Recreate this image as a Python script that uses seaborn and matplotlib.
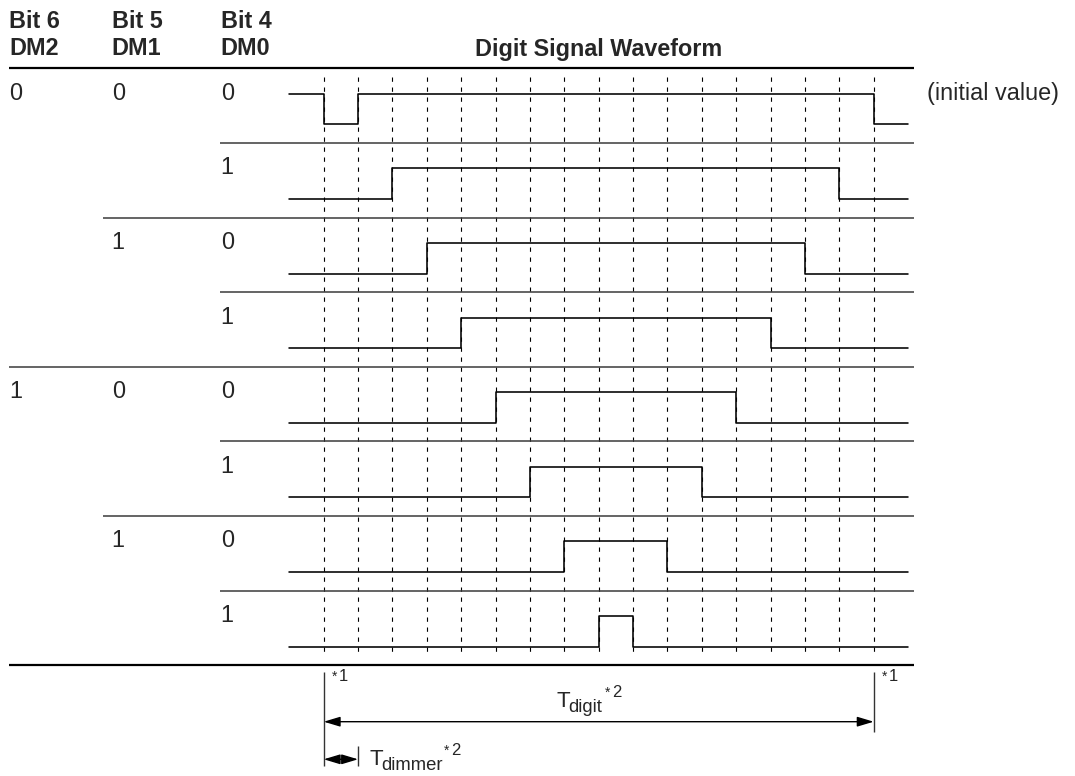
import matplotlib
matplotlib.use('Agg')
import matplotlib.pyplot as plt
import numpy as np
import pandas as pd
import seaborn as sns

sns.set_style('white')
plt.rcParams['font.family'] = ['Liberation Sans', 'DejaVu Sans']
plt.rcParams['lines.scale_dashes'] = False

# Dimmer setting bits per row and the slot where the digit goes high / low
dm2 = [0, 0, 0, 0, 1, 1, 1, 1]
dm1 = [0, 0, 1, 1, 0, 0, 1, 1]
dm0 = [0, 1, 0, 1, 0, 1, 0, 1]
rise_slot = [1, 2, 3, 4, 5, 6, 7, 8]
fall_slot = [16, 15, 14, 13, 12, 11, 10, 9]
n_slots = 16  # one T_digit period = 16 T_dimmer slots
col_top = ['Bit 6', 'Bit 5', 'Bit 4']
col_bottom = ['DM2', 'DM1', 'DM0']
title = 'Digit Signal Waveform'
initial_note = '(initial value)'

# layout helpers: pixel -> slot / row units
def sx(px):
    return (px - 323.7) / 34.375

def ry(py):
    return (py - 68.3) / 74.62

LOW, AMP = 0.75, 0.41
FS = 16.8

# build the waveform table (periodic with n_slots)
records = []
for i, (r, f) in enumerate(zip(rise_slot, fall_slot)):
    seg = list(range(-1, n_slots + 1))
    levels = [1 if r <= (t % n_slots) < f else 0 for t in seg]
    seg.append(n_slots + 1)
    levels.append(levels[-1])
    for t, lv in zip(seg, levels):
        records.append({'row': i, 't': t, 'y': i + LOW - AMP * lv})
wave = pd.DataFrame(records)

fig = plt.figure(figsize=(10.75, 7.76), dpi=100)
ax = fig.add_axes([0, 0, 1, 1])
ax.set_xlim(sx(0), sx(1075))
ax.set_ylim(ry(776), ry(0))
ax.axis('off')

# dashed slot boundaries
ax.vlines(range(n_slots + 1), ry(77), ry(657), colors='black', lw=0.8,
          linestyles=[(0, (3.1, 4.1))])

sns.lineplot(data=wave, x='t', y='y', units='row', estimator=None, sort=False,
             drawstyle='steps-post', color='black', lw=1.15, ax=ax, legend=False)
ax.set_xlabel('')
ax.set_ylabel('')

# table rules
line_start = [sx(9.3), sx(102.7), sx(220)]
x_end = sx(914)
ax.hlines(0, line_start[0], x_end, color='black', lw=1.6)
ax.hlines(len(dm0), line_start[0], x_end, color='black', lw=1.6)
for k in range(1, len(dm0)):
    if dm2[k] != dm2[k - 1]:
        g = 0
    elif dm1[k] != dm1[k - 1]:
        g = 1
    else:
        g = 2
    ax.hlines(k, line_start[g], x_end, color='#3a3a3a', lw=1.1)

# header
col_x = [sx(9.3), sx(111.7), sx(220.7)]
for j in range(3):
    ax.text(col_x[j], ry(28.5), col_top[j], fontsize=FS, weight='bold', va='baseline')
    ax.text(col_x[j], ry(55), col_bottom[j], fontsize=FS, weight='bold', va='baseline')
ax.text(n_slots / 2, ry(56), title, fontsize=FS, weight='bold', ha='center', va='baseline')

# row labels
for i in range(len(dm0)):
    yb = i + 0.42
    if i == 0 or dm2[i] != dm2[i - 1]:
        ax.text(col_x[0], yb, str(dm2[i]), fontsize=FS, va='baseline')
    if i == 0 or dm1[i] != dm1[i - 1]:
        ax.text(col_x[1], yb, str(dm1[i]), fontsize=FS, va='baseline')
    ax.text(col_x[2], yb, str(dm0[i]), fontsize=FS, va='baseline')
ax.text(sx(926.7), 0.43, initial_note, fontsize=FS, va='baseline')

# period annotation
ax.vlines(0, ry(671.7), ry(766), color='#333333', lw=1.0)
ax.vlines(n_slots, ry(671.7), ry(731.7), color='#333333', lw=1.0)
ax.vlines(1, ry(746), ry(766), color='#333333', lw=1.0)
arrow = dict(arrowstyle='<|-|>,head_length=1.0,head_width=0.3', color='black',
             lw=1.0, shrinkA=0, shrinkB=0, mutation_scale=10)
ax.annotate('', xy=(0, ry(721.7)), xytext=(n_slots, ry(721.7)), arrowprops=arrow)
ax.annotate('', xy=(0, ry(759.3)), xytext=(1, ry(759.3)), arrowprops=arrow)

for xs in [0, n_slots]:
    ax.text(xs + sx(331.7) - sx(323.7), ry(681), '*', fontsize=10, va='baseline')
    ax.text(xs + sx(338.5) - sx(323.7), ry(681), '1', fontsize=12, va='baseline')

ax.text(sx(556.7), ry(707), 'T', fontsize=16, va='baseline')
ax.text(sx(568.5), ry(712), 'digit', fontsize=13.3, va='baseline')
ax.text(sx(604.5), ry(697), '*', fontsize=10, va='baseline')
ax.text(sx(612), ry(697), '2', fontsize=12, va='baseline')

ax.text(sx(369.3), ry(765), 'T', fontsize=16, va='baseline')
ax.text(sx(381.5), ry(770), 'dimmer', fontsize=13.3, va='baseline')
ax.text(sx(444), ry(755), '*', fontsize=10, va='baseline')
ax.text(sx(451.5), ry(755), '2', fontsize=12, va='baseline')

fig.savefig('out.png', dpi=100)
